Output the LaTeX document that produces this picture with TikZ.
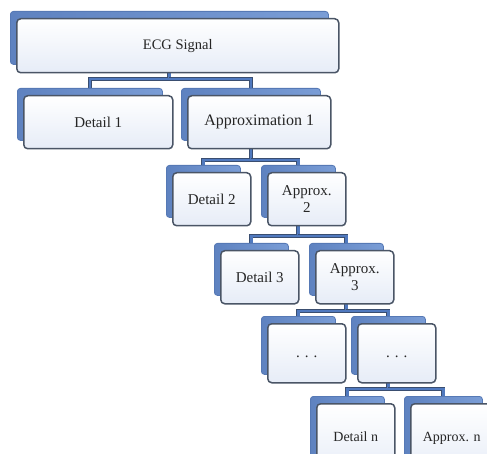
\documentclass[tikz,border=0pt]{standalone}
\usepackage{fontspec}
\setmainfont{Liberation Serif}
\usetikzlibrary{backgrounds,calc}
\definecolor{shadowblue}{HTML}{7A9DD6}
\definecolor{shadowdark}{HTML}{5E82C0}
\definecolor{shadowedge}{HTML}{5679B5}
\definecolor{boxedge}{HTML}{4A5566}
\definecolor{boxfill}{HTML}{E6ECF7}
\definecolor{connblue}{HTML}{5079BE}
\definecolor{connedge}{HTML}{3A4E70}
\tikzset{
  backbox/.style={draw=shadowedge, line width=0.8pt, left color=shadowdark, right color=shadowblue,
    rounded corners=3pt, inner sep=0pt},
  frontbox/.style={draw=boxedge, line width=1.5pt, top color=white, bottom color=boxfill,
    rounded corners=4pt, inner sep=2pt, align=center, text=black!85,
    font=\fontsize{15}{17}\selectfont},
  conn/.style={draw=connedge, line width=0.7pt, double=connblue, double distance=2.6pt}
}
% #1 name, #2 x1, #3 y1, #4 x2, #5 y2, #6 text
\newcommand\ecgbox[6]{%
  \node[backbox, minimum width={#4-#2-4}, minimum height={#5-#3-1}, anchor=north west]
    (#1S) at ({#2-6},{#3-7}) {};
  \node[frontbox, minimum width={#4-#2}, minimum height={#5-#3}, anchor=north west]
    (#1) at (#2,#3) {#6};
}
\begin{document}
\begin{tikzpicture}[x=1pt,y=-1pt]
\useasboundingbox (0,0) rectangle (487,454);
\clip (0,0) rectangle (487,454);

\ecgbox{ecg}{16}{18}{338}{72}{{\fontsize{14.5}{16}\selectfont ECG Signal}}
\ecgbox{da}{23}{95}{172}{148}{Detail 1}
\ecgbox{aa}{187}{95}{330}{148}{\fontsize{16}{18}\selectfont Approximation 1}
\ecgbox{db}{172}{172}{250}{225}{Detail 2}
\ecgbox{ab}{267}{172}{345}{225}{Approx.\\2}
\ecgbox{dc}{220}{250}{298}{303}{Detail 3}
\ecgbox{ac}{315}{250}{393}{303}{Approx.\\3}
\ecgbox{ea}{267}{323}{345}{382}{\raisebox{-8pt}{. . .}}
\ecgbox{eb}{357}{323}{435}{382}{\raisebox{-8pt}{. . .}}
\ecgbox{dn}{316}{403}{394}{475}{\raisebox{6pt}{\fontsize{14}{16}\selectfont Detail n}}
\ecgbox{an}{410}{403}{492}{475}{\raisebox{6pt}{\fontsize{14}{16}\selectfont Approx. n}}

\coordinate (b1) at (0,79);
\coordinate (b2) at (0,160);
\coordinate (b3) at (0,236);
\coordinate (b4) at (0,311);
\coordinate (b5) at (0,389);

\begin{pgfonlayer}{background}
\draw[conn] (ecgS.south) -- (ecgS.south |- b1) -| (daS.north);
\draw[conn] (ecgS.south |- b1) -| (aaS.north);
\draw[conn] (aaS.south) -- (aaS.south |- b2) -| (dbS.north);
\draw[conn] (aaS.south |- b2) -| (abS.north);
\draw[conn] (abS.south) -- (abS.south |- b3) -| (dcS.north);
\draw[conn] (abS.south |- b3) -| (acS.north);
\draw[conn] (acS.south) -- (acS.south |- b4) -| (eaS.north);
\draw[conn] (acS.south |- b4) -| (ebS.north);
\draw[conn] (ebS.south) -- (ebS.south |- b5) -| (dnS.north);
\draw[conn] (ebS.south |- b5) -| (anS.north);
\end{pgfonlayer}
\end{tikzpicture}
\end{document}
